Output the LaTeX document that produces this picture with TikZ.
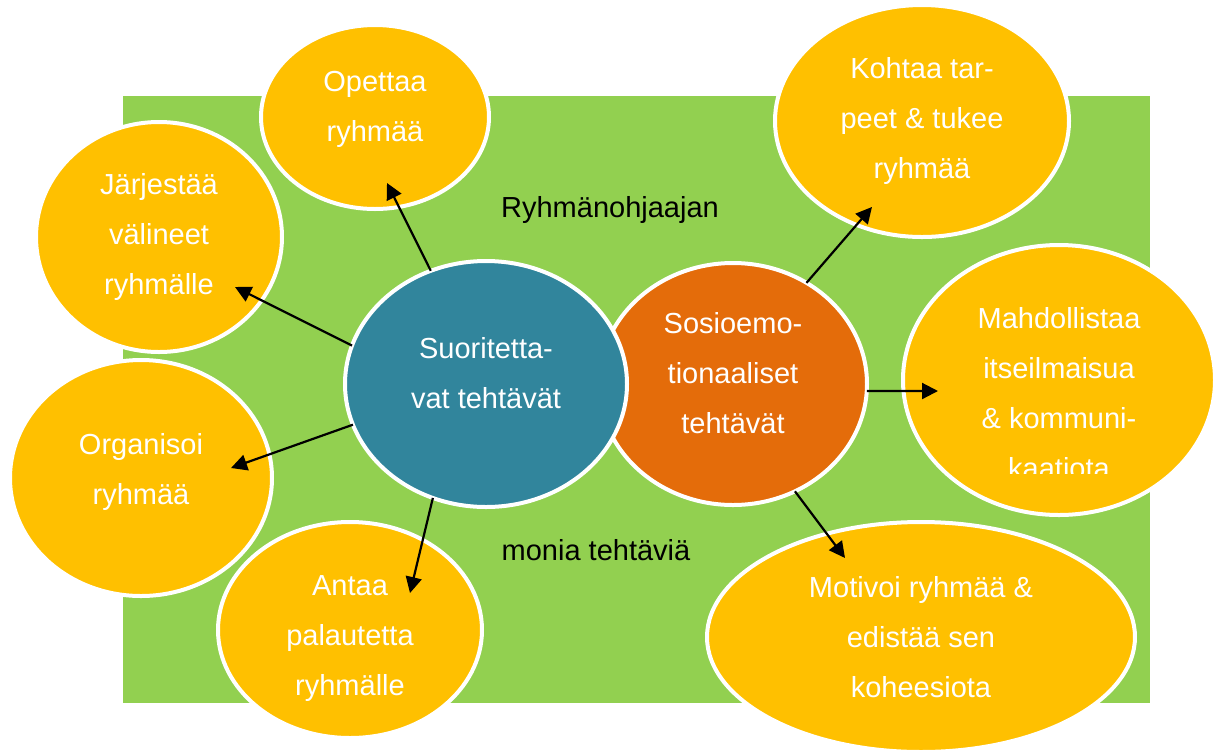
\documentclass[tikz,border=0pt]{standalone}
\usepackage{fontspec}
\setmainfont{Liberation Sans}
\usetikzlibrary{shapes.geometric, arrows.meta}

\definecolor{fieldgreen}{HTML}{92D050}
\definecolor{taskyellow}{HTML}{FFC000}
\definecolor{taskblue}{HTML}{31859C}
\definecolor{taskorange}{HTML}{E46C0A}

\begin{document}
\begin{tikzpicture}[
    x=0.5pt, y=-0.5pt,
    bubbletext/.style={text=white, align=center, inner sep=0pt, outer sep=0pt, font=\fontsize{14.5}{25}\selectfont},
    lift/.style={execute at end node={\rule[-#1]{0pt}{#1}}},
    bubble/.style={ellipse, bubbletext, draw=white, line width=2pt, fill=taskyellow},
    midtext/.style={anchor=base, font=\fontsize{14.5}{25}\selectfont},
    arrow/.style={-{Triangle[length=8pt, width=8pt]}, line width=1.1pt, black}
]
\path[use as bounding box] (0,0) rectangle (1217,751);
\fill[fieldgreen] (123,96) rectangle (1150,703);

\node[midtext] (ohj) at (610,217) {Ryhmänohjaajan};
\node[midtext] (monia) at (596,560) {monia tehtäviä};

% left side
\node[bubble, lift=10.6pt, minimum width=114pt, minimum height=92pt] (opet) at (375,117) {Opettaa\\ryhmää};
\node[bubble, minimum width=123pt, minimum height=115pt] (jarj) at (159,237) {Järjestää\\välineet\\ryhmälle};
\node[bubble, lift=9pt, minimum width=131pt, minimum height=118pt] (org) at (141,478) {Organisoi\\ryhmää};
\node[bubble, minimum width=132pt, minimum height=108pt] (antaa) at (350,630) {};
\node[bubbletext] (antaatext) at ([yshift=-4.5pt]antaa.center) {Antaa\\palautetta\\ryhmälle};

% centre
\node[bubble, fill=taskorange, lift=10.6pt, minimum width=134pt, minimum height=121pt] (sosio) at (733,384) {Sosioemo-\\tionaaliset\\tehtävät};
\node[bubble, fill=taskblue, lift=10.6pt, minimum width=141pt, minimum height=123pt] (suor) at (486,384) {Suoritetta-\\vat tehtävät};

% right side
\node[bubble, minimum width=147pt, minimum height=116pt] (kohtaa) at (922,121) {Kohtaa tar-\\peet \& tukee\\ryhmää};
\node[bubble, minimum width=156pt, minimum height=135pt] (mahd) at (1059,380) {};
\begin{scope}
  \clip (903,245) rectangle (1215,473);
  \node[bubbletext, lift=10.6pt] (mahdtext) at (1059,404) {Mahdollistaa\\itseilmaisua\\\& kommuni-\\kaatiota};
\end{scope}
\node[bubble, minimum width=214pt, minimum height=115pt] (motiv) at (921,637) {Motivoi ryhmää \&\\edistää sen\\koheesiota};

% arrow tips
\coordinate (opettip) at (387,183);
\coordinate (jarjtip) at (235,287);
\coordinate (orgtip) at (231,468);
\coordinate (antaatip) at (410,593);
\coordinate (kohtaatip) at (872,207);
\coordinate (mahdtip) at (938,391);
\coordinate (motivtip) at (845,558);

\draw[arrow] (suor.116.6) -- (opettip);
\draw[arrow] (suor.164.2) -- (jarjtip);
\draw[arrow] (suor.197) -- (orgtip);
\draw[arrow] (suor.245.7) -- (antaatip);
\draw[arrow] (sosio.54.3) -- (kohtaatip);
\draw[arrow] (sosio.-3) -- (mahdtip);
\draw[arrow] (sosio.-60.4) -- (motivtip);

\end{tikzpicture}
\end{document}
